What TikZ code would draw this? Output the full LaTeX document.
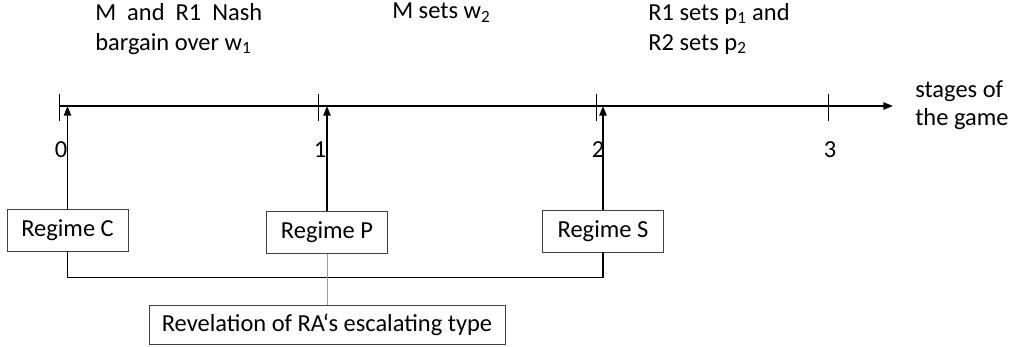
\documentclass[tikz,border=0pt]{standalone}
\usepackage{fontspec}
\setmainfont{Carlito}
\usetikzlibrary{arrows.meta}
\definecolor{boxline}{rgb}{0.25,0.25,0.25}
\definecolor{revline}{rgb}{0.62,0.62,0.62}
\tikzset{
  lbl/.style={font=\fontsize{17.4}{21.3}\selectfont,inner sep=0pt},
  regime/.style={lbl,draw=boxline,line width=0.6pt,minimum width=3.025cm,minimum height=1.05cm},
  up/.style={-{Triangle[length=2.4mm,width=1.8mm]},line width=1.2pt}
}
\begin{document}
\begin{tikzpicture}[x=0.025cm,y=-0.025cm]
\useasboundingbox (0,0) rectangle (1013,347);
% time axis
\coordinate (start) at (59,106);
\coordinate (stop) at (893,106);
\draw[up] (start) -- (stop);
\foreach \x/\t in {59/0,318/1,596/2,828/3}{
  \draw[line width=0.5pt] (\x,94) -- (\x,121);
  \node[lbl] (s\t) at (\x+2,150) {\t};
}
\node[lbl,anchor=north west,align=left,font=\fontsize{17.4}{19.9}\selectfont] (axislbl) at (915,80) {stages of\\the game};
% what happens in each stage
\node[lbl,anchor=north west,align=left] (act0) at (95,3) {\makebox[4.175cm][s]{M and R1 Nash}\\bargain over w\textsubscript{1}};
\node[lbl,anchor=north west,align=left] (act1) at (392,3) {M sets w\textsubscript{2}};
\node[lbl,anchor=north west,align=left] (act2) at (648,3) {R1 sets p\textsubscript{1} and\\R2 sets p\textsubscript{2}};
% regimes
\node[regime] (C) at (67.5,230) {Regime C};
\node[regime] (P) at (327,232.5) {Regime P};
\node[regime] (S) at (603,231) {Regime S};
\node[lbl,draw=boxline,line width=0.6pt,minimum width=8.9cm,minimum height=0.975cm] (rev) at (327,324.5) {Revelation of RA‘s escalating type};
\draw[up] (C.north) -- (C.north |- start);
\draw[up] (P.north) -- (P.north |- start);
\draw[up] (S.north) -- (S.north |- start);
\draw[line width=0.9pt] (C.south) -- ++(0,26) -| (S.south);
\draw[revline,line width=0.6pt] (P.south) -- (rev.north);
\end{tikzpicture}
\end{document}
